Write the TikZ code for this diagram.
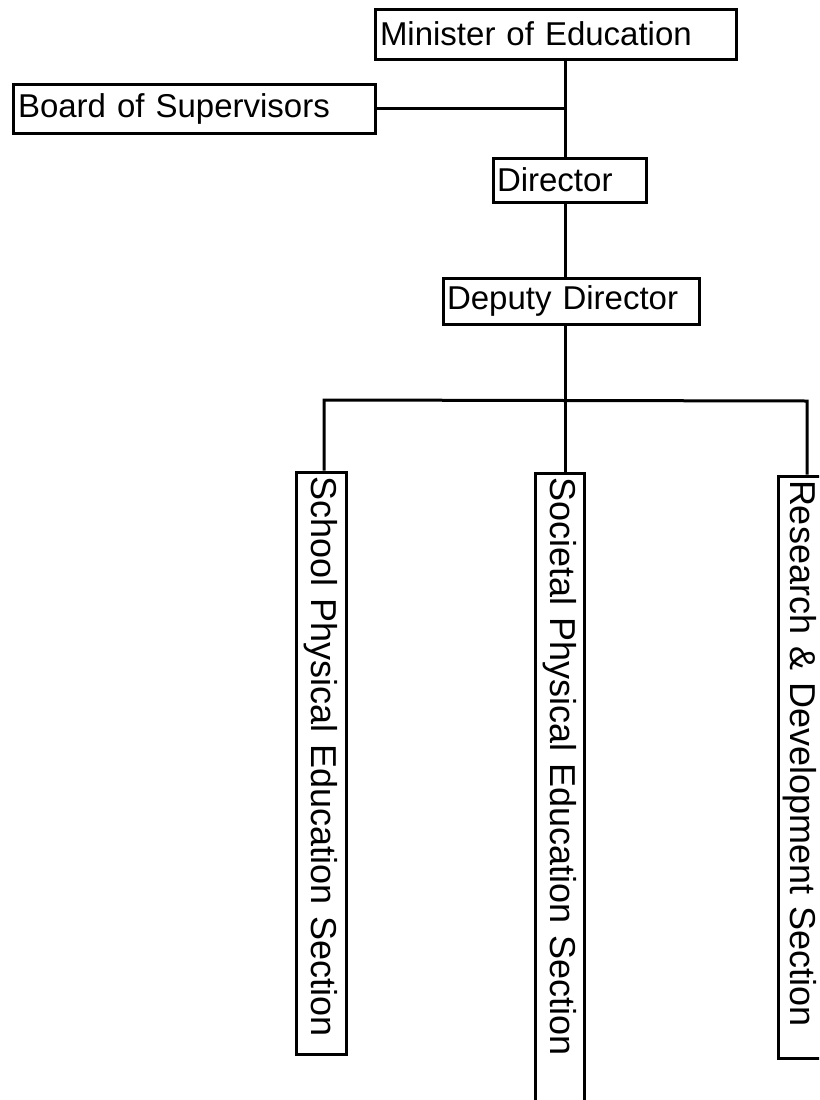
\documentclass[tikz,border=0pt]{standalone}
\usepackage{fontspec}
\setmainfont{Liberation Sans}
\begin{document}
\begin{tikzpicture}[x=1pt,y=1pt,
  orgbox/.style={draw, line width=3pt, inner sep=0pt, align=left,
    font=\fontsize{33}{38}\selectfont},
  sectbox/.style={orgbox, rotate=-90, font=\fontsize{36}{40}\selectfont},
  link/.style={line width=3pt}]
\useasboundingbox (0,0) rectangle (819,-1100);
\fill[white] (0,0) rectangle (819,-1100);
\clip (0,0) rectangle (819,-1100);

% upper chain of command
\node[orgbox, minimum width=361pt, minimum height=50pt, text width=351pt]
  (min) at (555.5,-34) {Minister of Education};
\node[orgbox, minimum width=362pt, minimum height=49pt, text width=352pt]
  (board) at (194,-108.5) {Board of Supervisors};
\node[orgbox, minimum width=153pt, minimum height=44pt, text width=145pt]
  (dir) at (569.5,-180) {Director};
\node[orgbox, minimum width=256pt, minimum height=46pt, text width=248pt]
  (dep) at (571,-301) {Deputy Director};

% sections, lettered top to bottom
\node[sectbox, minimum width=582pt, minimum height=50pt, text width=574pt]
  (sch) at (321,-763) {School Physical Education Section};
\node[sectbox, minimum width=642pt, minimum height=49pt, text width=634pt]
  (soc) at (559.5,-794) {Societal Physical Education Section};
\node[sectbox, minimum width=582pt, minimum height=44pt, text width=574pt]
  (res) at (800,-767) {Research \& Development Section};

% connector guide points
\coordinate (trunk) at (565,0);
\coordinate (bus) at (565,-400);
\coordinate (busL) at (324,-400);
\coordinate (busR) at (807,-401);

\draw[link] (min.south -| trunk) -- (dir.north -| trunk);
\draw[link] (board.east) -- (board.east -| trunk);
\draw[link] (dir.south -| trunk) -- (dep.north -| trunk);
\draw[link] (dep.south -| trunk) -- (bus);
\draw[link] (busL |- sch.west) -- (busL) -- (busR) -- (busR |- res.west);
\draw[link] (bus) -- (bus |- soc.west);
\end{tikzpicture}
\end{document}
